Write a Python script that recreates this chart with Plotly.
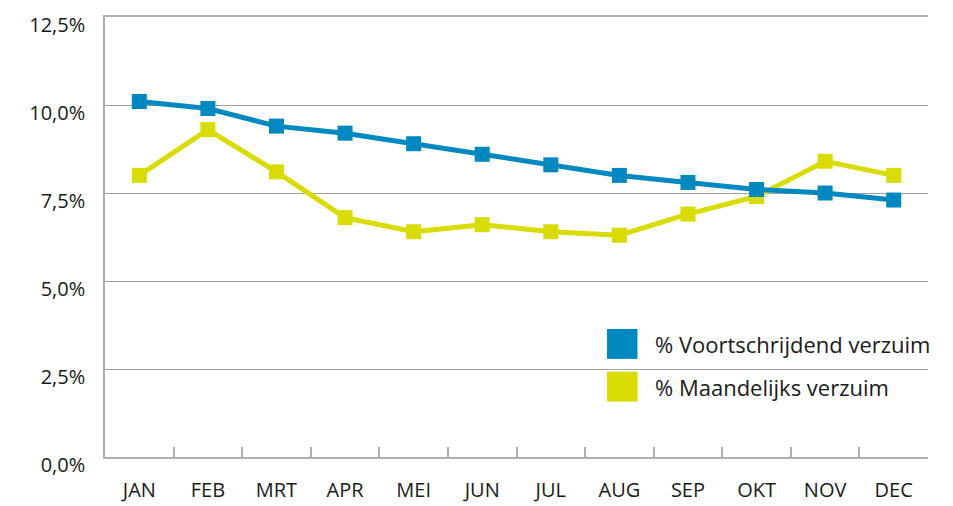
import plotly.graph_objects as go

months = ["JAN", "FEB", "MRT", "APR", "MEI", "JUN", "JUL", "AUG", "SEP", "OKT", "NOV", "DEC"]
voortschrijdend = [10.1, 9.9, 9.4, 9.2, 8.9, 8.6, 8.3, 8.0, 7.8, 7.6, 7.5, 7.3]
maandelijks = [8.0, 9.3, 8.1, 6.8, 6.4, 6.6, 6.4, 6.3, 6.9, 7.4, 8.4, 8.0]
series_names = ["% Voortschrijdend verzuim", "% Maandelijks verzuim"]
colors = ["#0089C1", "#D9DC00"]
y_ticks = [0, 2.5, 5, 7.5, 10, 12.5]
y_tick_text = [f"{v:.1f}%".replace(".", ",") for v in y_ticks]

FONT = "Open Sans"
OFF = 8  # default body margin of the html page

fig = go.Figure()
for name, vals, col in [(series_names[1], maandelijks, colors[1]), (series_names[0], voortschrijdend, colors[0])]:
    fig.add_trace(go.Scatter(
        x=months, y=vals, name=name, mode="lines+markers",
        line=dict(color=col, width=5),
        marker=dict(symbol="square", size=15, color=col),
        showlegend=False, hoverinfo="skip",
    ))

# legend built from shapes + text
leg_y = [0.257, 0.16]
for i, (name, col) in enumerate(zip(series_names, colors)):
    fig.add_shape(type="rect", xref="paper", yref="paper",
                  x0=0.61, x1=0.647, y0=leg_y[i] - 0.034, y1=leg_y[i] + 0.034,
                  fillcolor=col, line=dict(width=0))
    fig.add_annotation(xref="paper", yref="paper", x=0.666, y=leg_y[i],
                       text=name, showarrow=False, xanchor="left", yanchor="middle",
                       font=dict(family=FONT, size=22, color="#1a1a1a"))

fig.update_layout(
    width=953 - OFF, height=506 - OFF,
    margin=dict(l=105 - OFF, r=25, t=3, b=40),
    paper_bgcolor="white", plot_bgcolor="white",
    font=dict(family=FONT, size=20, color="#1a1a1a"),
    showlegend=False,
)
fig.update_xaxes(
    type="category", showgrid=False, showline=True, linecolor="#b0b0b0", linewidth=1.5,
    mirror=True,
    ticks="inside", tickson="boundaries", ticklen=10, tickcolor="#b0b0b0", tickwidth=1.5,
    ticklabelstandoff=14, range=[-0.5, 11.5],
)
fig.update_yaxes(
    range=[0, 12.5], tickvals=y_ticks, ticktext=y_tick_text,
    showgrid=True, gridcolor="#a0a0a0", gridwidth=1.2, zeroline=False,
    showline=True, linecolor="#b0b0b0", linewidth=1.5, ticks="",
    ticklabelstandoff=14, ticklabelshift=8, ticklabeloverflow="allow",
)
fig.write_html("out.html")
